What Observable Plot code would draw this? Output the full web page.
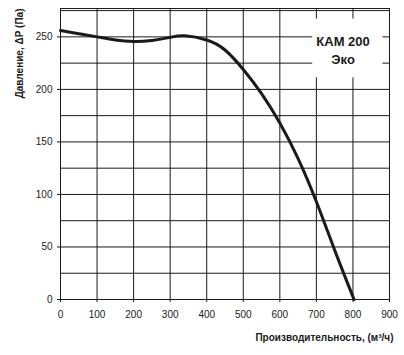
<!DOCTYPE html>
<html>
<head>
<meta charset="utf-8">
<script src="https://cdn.jsdelivr.net/npm/d3@7"></script>
<script src="https://cdn.jsdelivr.net/npm/@observablehq/plot@0.6"></script>
<style>
  html, body { margin: 0; padding: 0; background: #fff; }
  svg { font-family: "Liberation Sans", Arial, sans-serif; }
</style>
</head>
<body>
<div id="chart"></div>
<script>
// Flow (m³/h) and pressure (Pa)
const flow     = [0,   50,  100, 150, 200,   250,   300,   340, 400, 450,   500, 550, 600, 650, 700, 750, 803];
const pressure = [256, 253, 250, 247, 245.5, 246.5, 249.5, 251, 247, 237.5, 219, 196, 168, 134, 93,  47,  0];

const xTicks = [0, 100, 200, 300, 400, 500, 600, 700, 800, 900];
const yTicks = [0, 50, 100, 150, 200, 250];
const yGrid  = [0, 25, 50, 75, 100, 125, 150, 175, 200, 225, 250, 275];

const xTitle = "Производительность, (м³/ч)";
const yTitle = "Давление, ΔР (Па)";

// label box (data coordinates)
const labelBox  = [{x1: 690, x2: 882, y1: 211, y2: 267}];
const labelText = [{x: 773, y: 238, text: "КАМ 200\nЭко"}];

const data = flow.map((f, i) => ({flow: f, pressure: pressure[i]}));

const chart = Plot.plot({
  width: 404,
  height: 355,
  marginLeft: 60,
  marginRight: 15,
  marginTop: 8,
  marginBottom: 56,
  style: {fontFamily: '"Liberation Sans", Arial, sans-serif', fontSize: "10px", color: "#1a1a1a", background: "#fff"},
  x: {domain: [0, 900]},
  y: {domain: [0, 277]},
  marks: [
    Plot.gridX(xTicks, {stroke: "#1a1a1a", strokeOpacity: 1, strokeWidth: 1}),
    Plot.gridY(yGrid, {stroke: "#1a1a1a", strokeOpacity: 1, strokeWidth: 1}),
    Plot.frame({stroke: "#1a1a1a", strokeWidth: 1}),
    Plot.rect(labelBox, {x1: "x1", x2: "x2", y1: "y1", y2: "y2", fill: "#fff"}),
    Plot.text(labelText, {x: "x", y: "y", text: "text", fontSize: 13, fontWeight: "bold", lineHeight: 1.4, fill: "#1a1a1a"}),
    Plot.axisX(xTicks, {tickSize: 3, tickPadding: 8, label: null, fontSize: 10, stroke: "#1a1a1a"}),
    Plot.axisY(yTicks, {tickSize: 3, tickPadding: 5, label: null, fontSize: 10, stroke: "#1a1a1a"}),
    Plot.line(data, {x: "flow", y: "pressure", curve: "natural", stroke: "#1a1a1a", strokeWidth: 3}),
    Plot.text([xTitle], {frameAnchor: "bottom-right", text: d => d, textAnchor: "end", dx: 4, dy: 41, fontSize: 10, fontWeight: "bold", fill: "#1a1a1a"}),
    Plot.text([yTitle], {frameAnchor: "top-left", text: d => d, textAnchor: "end", rotate: -90, dx: -45, dy: 0, fontSize: 10, fontWeight: "bold", fill: "#1a1a1a"})
  ]
});
document.getElementById("chart").appendChild(chart);
</script>
</body>
</html>
